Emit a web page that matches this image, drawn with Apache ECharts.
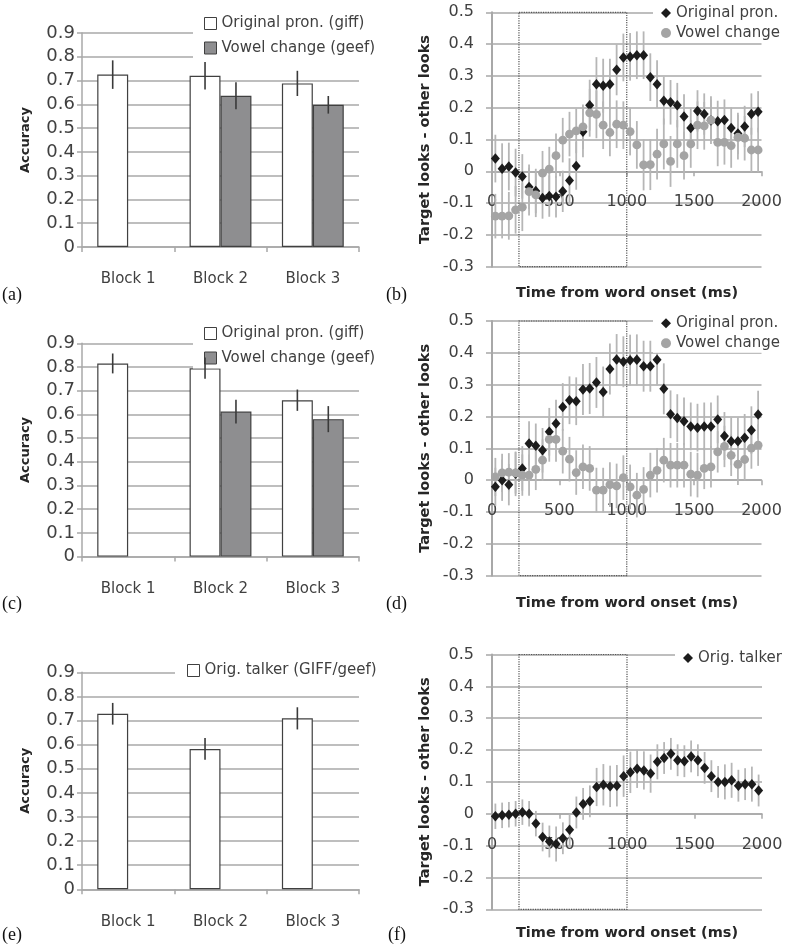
<!DOCTYPE html>
<html><head><meta charset="utf-8">
<script src="https://cdn.jsdelivr.net/npm/echarts@6/dist/echarts.min.js"></script>
<style>html,body{margin:0;padding:0;background:#fff}#c{width:786px;height:951px}</style>
</head><body><div id="c"></div>
<script>
// ---------- DATA ----------
const blocks = ['Block 1', 'Block 2', 'Block 3'];
const accTicks = [0, 0.1, 0.2, 0.3, 0.4, 0.5, 0.6, 0.7, 0.8, 0.9];
const looksTicks = [-0.3, -0.2, -0.1, 0, 0.1, 0.2, 0.3, 0.4, 0.5];
const timeTicks = [0, 500, 1000, 1500, 2000];
const windowMs = [200, 1000];

// (a)
const aOrig = [0.725, 0.72, 0.688];
const aOrigErr = [0.06, 0.058, 0.053];
const aVowel = [null, 0.636, 0.598];
const aVowelErr = [null, 0.057, 0.037];
// (c)
const cOrig = [0.815, 0.795, 0.66];
const cOrigErr = [0.042, 0.045, 0.045];
const cVowel = [null, 0.612, 0.58];
const cVowelErr = [null, 0.05, 0.055];
// (e)
const eTalker = [0.728, 0.582, 0.709];
const eTalkerErr = [0.045, 0.045, 0.046];

const timeMs = [25,75,125,175,225,275,325,375,425,475,525,575,625,675,725,775,825,875,925,975,1025,1075,1125,1175,1225,1275,1325,1375,1425,1475,1525,1575,1625,1675,1725,1775,1825,1875,1925,1975];

// (b)
const bOrig = [0.04,0.008,0.015,-0.004,-0.016,-0.049,-0.062,-0.084,-0.078,-0.08,-0.063,-0.029,0.017,0.124,0.208,0.274,0.269,0.274,0.319,0.358,0.36,0.365,0.365,0.296,0.274,0.222,0.217,0.208,0.172,0.136,0.19,0.18,0.16,0.157,0.161,0.136,0.119,0.141,0.18,0.187];
const bOrigErr = [0.075,0.08,0.075,0.075,0.07,0.07,0.07,0.065,0.065,0.065,0.065,0.07,0.075,0.08,0.08,0.085,0.085,0.08,0.08,0.075,0.075,0.075,0.075,0.075,0.075,0.075,0.07,0.07,0.07,0.065,0.065,0.065,0.065,0.065,0.065,0.065,0.065,0.065,0.065,0.065];
const bVowel = [-0.141,-0.141,-0.14,-0.121,-0.113,-0.064,-0.074,-0.006,0.007,0.049,0.098,0.117,0.127,0.14,0.184,0.179,0.145,0.122,0.148,0.145,0.125,0.083,0.02,0.021,0.054,0.086,0.031,0.086,0.049,0.086,0.145,0.143,0.161,0.091,0.091,0.081,0.107,0.104,0.067,0.067];
const bVowelErr = [0.07,0.07,0.075,0.075,0.075,0.075,0.07,0.07,0.07,0.07,0.07,0.07,0.07,0.07,0.075,0.075,0.075,0.075,0.075,0.075,0.075,0.075,0.08,0.08,0.08,0.08,0.08,0.075,0.075,0.075,0.075,0.075,0.075,0.075,0.07,0.07,0.07,0.07,0.07,0.07];
// (d)
const dOrig = [-0.021,0.0,-0.014,0.02,0.037,0.115,0.108,0.094,0.152,0.178,0.23,0.251,0.248,0.285,0.288,0.307,0.277,0.349,0.379,0.372,0.377,0.378,0.358,0.358,0.378,0.287,0.207,0.195,0.185,0.169,0.165,0.169,0.169,0.191,0.139,0.122,0.122,0.133,0.157,0.206];
const dOrigErr = [0.06,0.065,0.065,0.07,0.07,0.07,0.07,0.07,0.075,0.075,0.075,0.075,0.075,0.08,0.08,0.08,0.08,0.08,0.08,0.08,0.08,0.08,0.08,0.08,0.08,0.08,0.075,0.075,0.075,0.075,0.075,0.075,0.075,0.075,0.075,0.075,0.075,0.075,0.075,0.075];
const dVowel = [0.01,0.023,0.025,0.023,0.016,0.016,0.034,0.063,0.128,0.128,0.091,0.066,0.024,0.042,0.037,-0.031,-0.031,-0.014,-0.018,0.008,-0.021,-0.047,-0.029,0.016,0.031,0.063,0.047,0.047,0.047,0.019,0.016,0.037,0.042,0.089,0.106,0.078,0.05,0.065,0.101,0.11];
const dVowelErr = [0.06,0.06,0.06,0.065,0.065,0.065,0.065,0.065,0.07,0.07,0.07,0.07,0.07,0.07,0.07,0.07,0.07,0.07,0.07,0.07,0.07,0.07,0.07,0.07,0.07,0.07,0.07,0.07,0.07,0.07,0.07,0.065,0.065,0.065,0.065,0.065,0.065,0.065,0.065,0.065];
// (f)
const fTalker = [-0.008,-0.005,-0.003,0.0,0.005,0.0,-0.031,-0.073,-0.087,-0.095,-0.077,-0.05,0.004,0.031,0.039,0.084,0.091,0.086,0.088,0.118,0.13,0.141,0.136,0.126,0.163,0.175,0.188,0.168,0.165,0.18,0.168,0.144,0.118,0.1,0.1,0.105,0.088,0.093,0.093,0.073];
const fTalkerErr = [0.04,0.04,0.04,0.04,0.04,0.04,0.04,0.045,0.05,0.055,0.05,0.05,0.05,0.05,0.05,0.06,0.065,0.065,0.065,0.065,0.065,0.06,0.06,0.06,0.055,0.05,0.05,0.05,0.05,0.05,0.05,0.05,0.05,0.05,0.055,0.055,0.05,0.05,0.055,0.05];

const panelLetters = ['(a)', '(b)', '(c)', '(d)', '(e)', '(f)'];

// ---------- STYLE ----------
const FONT = 'DejaVu Sans';
const GRID_C = '#a8a8a8';
const TXT = '#404040';
const TITLE = '#262626';
const BAR_EDGE = '#404040';
const GAP = 0.33;

function step(t) { return Math.round((t[1] - t[0]) * 1e6) / 1e6; }

const grids = [
  {left: 82, top: 33, width: 277, height: 214},
  {left: 492, top: 12.3, width: 269.5, height: 254.4},
  {left: 82, top: 343.3, width: 277, height: 213.3},
  {left: 492, top: 321, width: 269.5, height: 254.7},
  {left: 82, top: 672.3, width: 277, height: 217},
  {left: 492, top: 654.5, width: 270, height: 254.8}
];

function barX(gi) {
  return {type: 'category', gridIndex: gi, data: blocks,
    axisLine: {lineStyle: {color: GRID_C, width: 1.5}},
    axisTick: {show: true, length: 5, lineStyle: {color: GRID_C, width: 1.5}},
    axisLabel: {fontFamily: FONT, fontSize: 15, color: TXT, margin: 25},
    splitLine: {show: false}};
}
function barY(gi) {
  return {type: 'value', gridIndex: gi, min: accTicks[0], max: accTicks[accTicks.length - 1], interval: step(accTicks),
    name: 'Accuracy', nameLocation: 'middle', nameRotate: 90, nameGap: 50,
    nameTextStyle: {fontFamily: FONT, fontSize: 13, fontWeight: 'bold', color: TITLE},
    axisLine: {show: true, lineStyle: {color: GRID_C, width: 1.5}},
    axisTick: {show: true, length: 5, lineStyle: {color: GRID_C, width: 1.5}},
    axisLabel: {fontFamily: FONT, fontSize: 18, color: TXT, margin: 7},
    splitLine: {show: true, lineStyle: {color: GRID_C, width: 1.5}}};
}
// x axis of the eye-tracking panels sits at y = 0 (Excel style); shift it up from the grid bottom
function scX(gi) {
  const lo = looksTicks[0], hi = looksTicks[looksTicks.length - 1];
  const shift = grids[gi].height * (0 - lo) / (hi - lo);
  return {type: 'value', gridIndex: gi, position: 'bottom', offset: -shift,
    min: timeTicks[0], max: timeTicks[timeTicks.length - 1], interval: step(timeTicks),
    axisLine: {onZero: false, lineStyle: {color: GRID_C, width: 1.5}},
    axisTick: {show: true, length: 5, lineStyle: {color: GRID_C, width: 1.5}},
    axisLabel: {fontFamily: FONT, fontSize: 16, color: TXT, margin: 23, formatter: v => String(v)},
    splitLine: {show: false}};
}
function scY(gi) {
  return {type: 'value', gridIndex: gi, min: looksTicks[0], max: looksTicks[looksTicks.length - 1], interval: step(looksTicks),
    name: 'Target looks - other looks', nameLocation: 'middle', nameRotate: 90, nameGap: 59,
    nameTextStyle: {fontFamily: FONT, fontSize: 14.5, fontWeight: 'bold', color: TITLE},
    axisLine: {show: true, onZero: false, lineStyle: {color: GRID_C, width: 2}},
    axisTick: {show: true, length: 6, lineStyle: {color: GRID_C, width: 1.5}},
    axisLabel: {fontFamily: FONT, fontSize: 16, color: TXT, margin: 18},
    splitLine: {show: true, lineStyle: {color: GRID_C, width: 1.5}}};
}

function barSeries(gi, name, vals, fill) {
  return {type: 'bar', name: name, xAxisIndex: gi, yAxisIndex: gi, data: vals,
    barCategoryGap: (GAP * 100) + '%', barGap: '0%', z: 2,
    itemStyle: {color: fill, borderColor: BAR_EDGE, borderWidth: 1.2}};
}
function barErr(gi, vals, errs, pos, n) {
  const data = [];
  vals.forEach((v, i) => { if (v != null) data.push([i, v, errs[i]]); });
  return {type: 'custom', xAxisIndex: gi, yAxisIndex: gi, z: 5, silent: true, data: data,
    renderItem: function (params, api) {
      const idx = api.value(0), v = api.value(1), e = api.value(2);
      const c = api.coord([idx, v]);
      const band = api.size([1, 0])[0];
      const bw = band * (1 - GAP) / n;
      const x = c[0] + (pos - (n - 1) / 2) * bw;
      const top = api.coord([idx, v + e])[1];
      const bot = api.coord([idx, v - e])[1];
      return {type: 'line', shape: {x1: x, y1: top, x2: x, y2: bot}, style: {stroke: '#3a3a3a', lineWidth: 1.6}};
    }};
}
function scErr(gi, vals, errs) {
  return {type: 'custom', xAxisIndex: gi, yAxisIndex: gi, z: 1, silent: true,
    data: timeMs.map((t, i) => [t, vals[i], errs[i]]),
    renderItem: function (params, api) {
      const x = api.value(0), y = api.value(1), e = api.value(2);
      const p1 = api.coord([x, y + e]), p2 = api.coord([x, y - e]);
      return {type: 'line', shape: {x1: p1[0], y1: p1[1], x2: p2[0], y2: p2[1]}, style: {stroke: '#b6b6b6', lineWidth: 1.8}};
    }};
}
function scSeries(gi, name, vals, kind, withWindow) {
  const s = {type: 'scatter', name: name, xAxisIndex: gi, yAxisIndex: gi,
    data: timeMs.map((t, i) => [t, vals[i]]),
    symbol: kind === 'dark' ? 'diamond' : 'circle',
    symbolSize: kind === 'dark' ? [9, 10.5] : 8.8,
    z: kind === 'dark' ? 3 : 4,
    itemStyle: {color: kind === 'dark' ? '#1c1c1c' : '#a4a4a4', opacity: 1}};
  if (withWindow) {
    s.markArea = {silent: true,
      itemStyle: {color: 'rgba(0,0,0,0)', borderColor: '#555', borderWidth: 1.2, borderType: 'dotted'},
      data: [[{coord: [windowMs[0], looksTicks[looksTicks.length - 1]]}, {coord: [windowMs[1], looksTicks[0]]}]]};
  }
  return s;
}

function legendBar(left, top, items, pad) {
  return {left: left, top: top, orient: 'vertical', itemGap: 9.5, itemWidth: 12, itemHeight: 12,
    backgroundColor: '#fff', padding: pad, selectedMode: false,
    itemStyle: {borderColor: BAR_EDGE, borderWidth: 1},
    textStyle: {fontFamily: FONT, fontSize: 15, color: TXT},
    data: items.map(n => ({name: n, icon: 'rect'}))};
}
function legendSc(left, top, items, pad) {
  return {left: left, top: top, orient: 'vertical', itemGap: 5, itemWidth: 10, itemHeight: 10,
    backgroundColor: '#fff', padding: pad, selectedMode: false,
    textStyle: {fontFamily: FONT, fontSize: 15, color: TXT},
    data: items};
}

const ORIG = 'Original pron. (giff)', VOW = 'Vowel change (geef)';
const ORIG2 = 'Original pron.', VOW2 = 'Vowel change';
const TALK = 'Orig. talker (GIFF/geef)', TALK2 = 'Orig. talker';

const series = [
  barSeries(0, ORIG, aOrig, '#ffffff'), barSeries(0, VOW, aVowel, '#8e8e90'),
  barErr(0, aOrig, aOrigErr, 0, 2), barErr(0, aVowel, aVowelErr, 1, 2),
  scErr(1, bOrig, bOrigErr), scErr(1, bVowel, bVowelErr),
  scSeries(1, ORIG2, bOrig, 'dark', true), scSeries(1, VOW2, bVowel, 'grey', false),
  barSeries(2, ORIG, cOrig, '#ffffff'), barSeries(2, VOW, cVowel, '#8e8e90'),
  barErr(2, cOrig, cOrigErr, 0, 2), barErr(2, cVowel, cVowelErr, 1, 2),
  scErr(3, dOrig, dOrigErr), scErr(3, dVowel, dVowelErr),
  scSeries(3, ORIG2, dOrig, 'dark', true), scSeries(3, VOW2, dVowel, 'grey', false),
  barSeries(4, TALK, eTalker, '#ffffff'), barSeries(4, 'unused', [null, null, null], '#8e8e90'),
  barErr(4, eTalker, eTalkerErr, 0, 2),
  scErr(5, fTalker, fTalkerErr),
  scSeries(5, TALK2, fTalker, 'dark', true)
];

function txt(x, y, text, opts) {
  return {type: 'text', x: x, y: y, z: 100, style: Object.assign({text: text, fill: TITLE, verticalAlign: 'middle'}, opts)};
}
const letterStyle = {fontFamily: 'Liberation Serif', fontSize: 18, fill: '#111', align: 'left'};
const xTitleStyle = {fontFamily: FONT, fontSize: 14.5, fontWeight: 'bold', align: 'center'};

const option = {
  animation: false,
  backgroundColor: '#fff',
  grid: grids,
  xAxis: [barX(0), scX(1), barX(2), scX(3), barX(4), scX(5)],
  yAxis: [barY(0), scY(1), barY(2), scY(3), barY(4), scY(5)],
  legend: [
    legendBar(193, 14, [ORIG, VOW], [2, 5, 3, 11]),
    legendBar(193, 324, [ORIG, VOW], [2, 5, 3, 11]),
    legendBar(175, 661, [TALK], [2, 5, 2, 12]),
    legendSc(653, 3.5, [{name: ORIG2, icon: 'diamond'}, {name: VOW2, icon: 'circle'}], [2, 0, 2, 8]),
    legendSc(653, 313.8, [{name: ORIG2, icon: 'diamond'}, {name: VOW2, icon: 'circle'}], [2, 0, 2, 8]),
    legendSc(675, 648.5, [{name: TALK2, icon: 'diamond'}], [2, 0, 2, 8])
  ],
  graphic: [
    txt(2, 295, panelLetters[0], letterStyle),
    txt(386, 295, panelLetters[1], letterStyle),
    txt(2, 604, panelLetters[2], letterStyle),
    txt(386, 604, panelLetters[3], letterStyle),
    txt(2, 935, panelLetters[4], letterStyle),
    txt(388, 935, panelLetters[5], letterStyle),
    txt(627, 293, 'Time from word onset (ms)', xTitleStyle),
    txt(627, 603, 'Time from word onset (ms)', xTitleStyle),
    txt(627, 933, 'Time from word onset (ms)', xTitleStyle)
  ],
  series: series
};

const chart = echarts.init(document.getElementById('c'), null, {renderer: 'canvas'});
chart.setOption(option);
</script>
</body></html>
